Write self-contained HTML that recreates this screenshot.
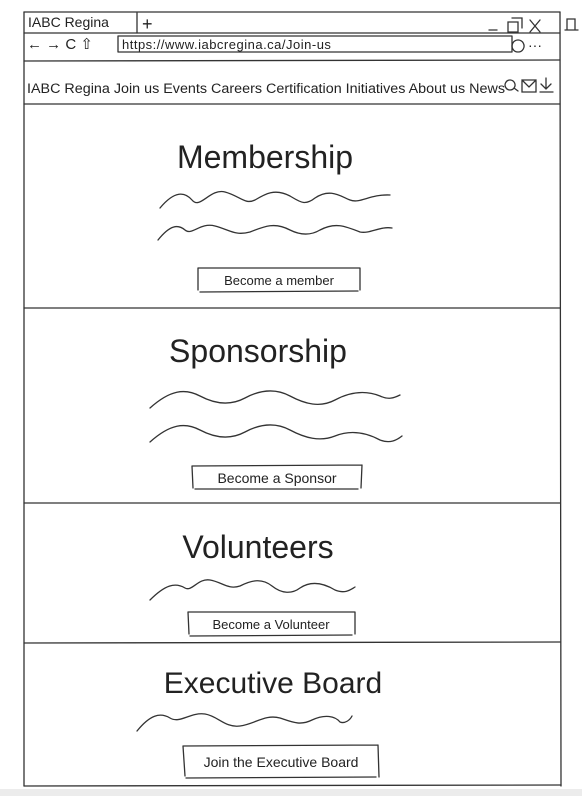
<!DOCTYPE html>
<html><head><meta charset="utf-8"><style>
html,body{margin:0;padding:0;background:#fff;}
svg{display:block;}
text{font-family:"Liberation Sans",sans-serif;fill:#222;}
</style></head><body>
<svg width="582" height="796" viewBox="0 0 582 796" xmlns="http://www.w3.org/2000/svg">
<rect x="0" y="789" width="582" height="7" fill="#ececec"/>
<g stroke="#333" stroke-width="1.3" fill="none" stroke-linecap="round">
<!-- outer frame -->
<path d="M24 12 L560 12"/>
<path d="M24 12 L24 786"/>
<path d="M560 12 L561 786"/>
<path d="M24 786 L561 785"/>
<path d="M137 13 L137 33"/>
<path d="M24 33 L560 33"/>
<path d="M118 36 L118 52 M118 36 L512 36 M118 52 L512 52 M512 36 L512 52"/>
<path d="M24 61 L560 60"/>
<path d="M24 104 L560 104"/>
<path d="M24 308 L560 308"/>
<path d="M24 503 L560 503"/>
<path d="M24 643 L560 642"/>
<!-- squiggles -->
<path d="M160 208 C175 190,185 192,192 200 C200 210,210 188,225 192 C240 196,245 205,255 200 C265 194,275 188,290 196 C300 202,305 206,315 198 C330 188,340 196,350 200 C360 204,370 194,390 195"/>
<path d="M158 240 C170 225,178 224,185 230 C192 236,200 222,215 226 C230 230,235 236,250 232 C265 226,275 222,290 230 C300 235,310 236,320 230 C335 222,345 226,360 232 C370 234,380 226,392 228"/>
<path d="M150 408 C170 390,185 388,200 396 C215 404,230 406,245 398 C260 390,275 388,290 396 C305 404,320 408,335 400 C350 392,365 390,380 396 C388 400,394 398,400 395"/>
<path d="M150 442 C170 424,185 422,200 430 C215 438,230 440,245 432 C260 424,275 422,290 430 C305 438,320 442,335 436 C350 430,365 432,380 440 C390 444,397 440,402 436"/>
<path d="M150 600 C165 585,175 582,185 588 C192 592,198 578,210 580 C222 582,228 590,240 586 C252 580,262 578,272 586 C282 594,292 594,300 588 C312 580,325 584,335 590 C345 594,350 590,355 587"/>
<path d="M137 731 C150 715,160 712,170 718 C180 724,190 712,205 714 C218 716,225 728,240 726 C255 724,265 714,280 718 C292 722,300 726,312 720 C325 714,335 716,340 722 C345 724,350 720,352 716"/>
<!-- buttons -->
<path d="M198 268 L360 268 M198 268 L198 290 M360 268 L360 290 M200 292 L358 291"/>
<path d="M192 466 L362 465 M192 466 L193 488 M362 465 L361 488 M195 489 L358 489"/>
<path d="M188 612 L355 612 M188 612 L189 634 M355 612 L355 634 M190 636 L352 635"/>
<path d="M183 746 L378 745 M183 746 L185 776 M378 745 L379 777 M186 778 L376 777"/>
<!-- icons -->
<path d="M489 30 L497 30"/>
<path d="M508 22 L518 22 L518 32 L508 32 Z M512 18 L522 18 L522 28"/>
<path d="M530 20 L540 32 M540 20 L530 32"/>
<path d="M567 19 L575 19 L575 30 L567 30 Z M565 30 L578 30"/>
<path d="M518 40 a6 6 0 1 0 0.1 0"/>
<path d="M510 80 a5 5 0 1 0 0.1 0 M514 88 L518 91"/>
<path d="M522 80 L536 80 L536 92 L522 92 Z M522 80 L529 87 L536 80"/>
<path d="M546 78 L546 89 M541 84 L546 89 L551 84 M540 92 L553 92"/>
</g>
<text x="28" y="27" font-size="14">IABC Regina</text>
<text x="142" y="30" font-size="18">+</text>
<text x="27" y="49" font-size="15">← → C ⇧</text>
<text x="122" y="49" font-size="13" letter-spacing="0.5">https://www.iabcregina.ca/Join-us</text>
<text x="528" y="50" font-size="14">···</text>
<text x="27" y="93" font-size="13.5" textLength="478" lengthAdjust="spacingAndGlyphs">IABC Regina  Join us  Events  Careers  Certification  Initiatives  About us  News</text>
<text x="265" y="168" font-size="32" text-anchor="middle" font-weight="300">Membership</text>
<text x="279" y="285" font-size="13" text-anchor="middle">Become a member</text>
<text x="258" y="362" font-size="32" text-anchor="middle">Sponsorship</text>
<text x="277" y="483" font-size="14" text-anchor="middle">Become a Sponsor</text>
<text x="258" y="558" font-size="32" text-anchor="middle">Volunteers</text>
<text x="271" y="629" font-size="13" text-anchor="middle">Become a Volunteer</text>
<text x="273" y="693" font-size="30" text-anchor="middle">Executive Board</text>
<text x="281" y="767" font-size="14" text-anchor="middle">Join the Executive Board</text>
</svg>
</body></html>
